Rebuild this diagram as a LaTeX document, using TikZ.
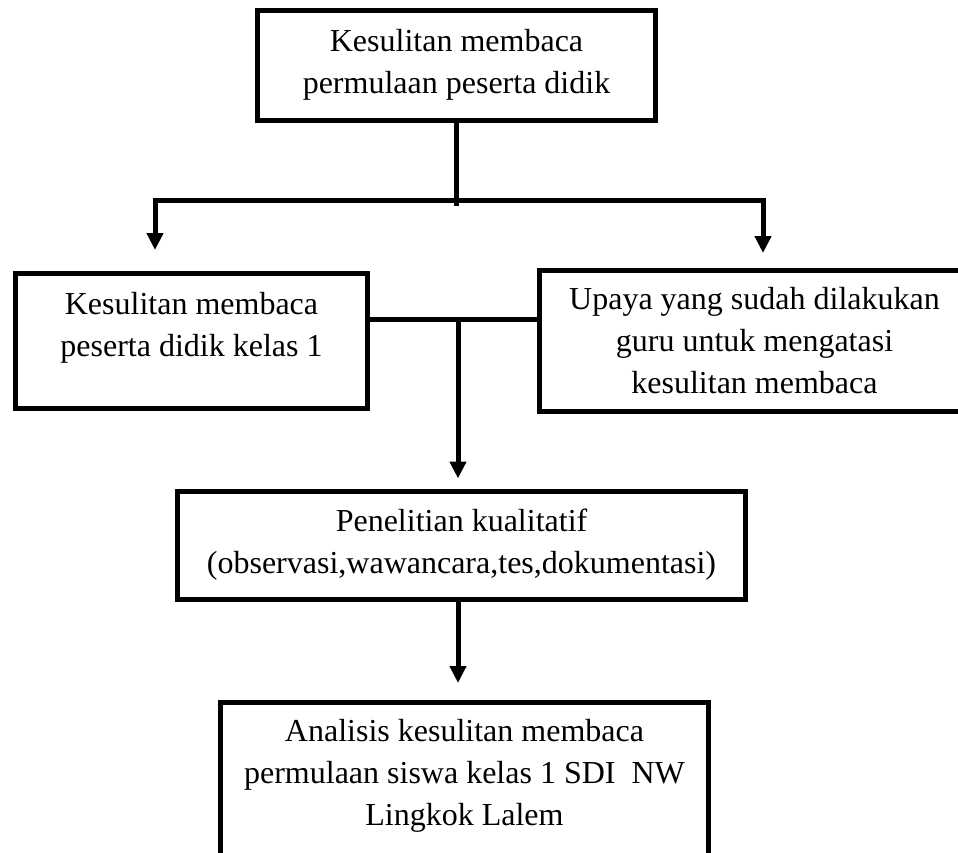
\documentclass[tikz,border=0pt]{standalone}
\usepackage{fontspec}
\setmainfont{Liberation Serif}
\usetikzlibrary{arrows.meta}
\newcommand{\padbelow}[1]{\rule[-#1]{0pt}{#1}}

\begin{document}
\begin{tikzpicture}[
            x=0.5pt, y=-0.5pt,
            main box/.style={rectangle,draw,line width=2.5pt,align=center,
                inner sep=0pt,font=\fontsize{16}{21}\selectfont},
            link/.style={line width=2.5pt},
            arrow/.style={link,-{Triangle[width=8pt,length=8.5pt]}}]
            \useasboundingbox (0,0) rectangle (958,852);
            \clip (0,0) rectangle (958,852);
                    % Define vertices
            \node[main box,minimum width=199pt,minimum height=55pt] (K) at (456.5,65)
                {Kesulitan membaca\\permulaan peserta didik};
            \node[main box,minimum width=176pt,minimum height=67.5pt] (KL) at (191.5,341)
                {Kesulitan membaca\\peserta didik kelas 1\padbelow{17pt}};
            \node[main box,minimum width=215.5pt,minimum height=70.5pt] (UG) at (754.5,340.5)
                {Upaya yang sudah dilakukan\\guru untuk mengatasi\\kesulitan membaca};
            \node[main box,minimum width=284pt,minimum height=54pt] (PK) at (461.5,545)
                {Penelitian kualitatif\\(observasi,wawancara,tes,dokumentasi)};
            \node[main box,minimum width=244pt,minimum height=78.75pt] (AK) at (464.5,781.25)
                {Analisis kesulitan membaca\\permulaan siswa kelas 1 SDI~ NW\\Lingkok Lalem\padbelow{8.5pt}};
                    % Define edges
            \coordinate (split) at (456.5,200);
            \coordinate (ltip) at (155,250);
            \coordinate (rtip) at (763,253);
            \coordinate (junction) at (458,319);
            \draw[link,shorten >=-3pt] (K) -- (split);
            \draw[arrow] (split) -| (ltip);
            \draw[arrow] (split) -| (rtip);
            \draw[link] (KL.east |- junction) -- (UG.west |- junction);
            \draw[arrow,shorten >=5pt] (junction) -- (junction |- PK.north);
            \draw[arrow,shorten >=8.5pt] (junction |- PK.south) -- (junction |- AK.north);
        \end{tikzpicture}
\end{document}
